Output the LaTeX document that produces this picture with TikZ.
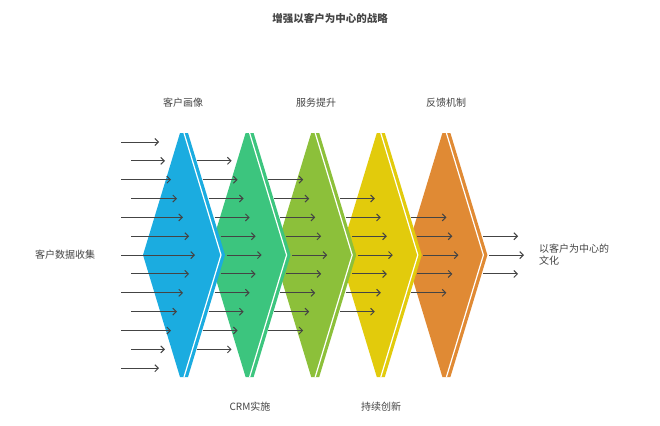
\documentclass[tikz,border=0pt]{standalone}
\usepackage{fontspec}
\setmainfont{Noto Sans CJK SC}
\usetikzlibrary{arrows.meta}
\definecolor{c0}{HTML}{1BACE0}
\definecolor{c1}{HTML}{3CC57E}
\definecolor{c2}{HTML}{8CC03A}
\definecolor{c3}{HTML}{E2CB0C}
\definecolor{c4}{HTML}{E08A34}
\definecolor{txt}{HTML}{444444}
\tikzset{lbl/.style={text=txt,font=\fontsize{10pt}{12pt}\selectfont,inner sep=0pt},
  arr/.style={draw=txt,line width=1pt,-{Straight Barb[length=3.5pt,width=7pt]}}}
\begin{document}
\begin{tikzpicture}[x=1pt,y=-1pt]
\useasboundingbox[fill=white] (0,0) rectangle (660,425);
\foreach \k in {4,3,2,1,0}{
  \pgfmathsetmacro{\xo}{180+65.6*\k}
  \fill[c\k] (\xo,133) -- (\xo+8,133) -- (\xo+45,255) -- (\xo+8,377) -- (\xo,377) -- (\xo-37,255) -- cycle;
  \draw[white,line width=1.2pt] (\xo+4,133) -- (\xo+41,255) -- (\xo+4,377);
}
\foreach \i in {0,...,12}{
  \pgfmathsetmacro{\y}{142+18.85*\i}
  \pgfmathsetmacro{\d}{abs(\i-6)}
  \pgfmathsetmacro{\e}{195-6*\d}
  \pgfmathsetmacro{\s}{isodd(\i)?131:121}
  \draw[arr] (\s,\y) -- (\e,\y);
}
\foreach \k/\a/\b in {1/1/11,2/2/10,3/3/9,4/4/8,5/5/7}{
  \foreach \i in {\a,...,\b}{
    \pgfmathsetmacro{\y}{142+18.85*\i}
    \pgfmathsetmacro{\d}{abs(\i-6)}
    \pgfmathsetmacro{\e}{196+65.6*\k-6*\d}
    \draw[arr] (\e-35,\y) -- (\e,\y);
  }
}
\node[lbl,font=\fontsize{10.5pt}{12pt}\bfseries\selectfont] (title) at (330,18) {增强以客户为中心的战略};
\node[lbl] (l0) at (183,103) {客户画像};
\node[lbl] (l2) at (316,103) {服务提升};
\node[lbl] (l4) at (446,103) {反馈机制};
\node[lbl] (l1) at (250,407) {CRM实施};
\node[lbl] (l3) at (381,407) {持续创新};
\node[lbl] (in) at (65,255) {客户数据收集};
\node[lbl,anchor=west,align=left] (out) at (539,255) {以客户为中心的\\文化};
\end{tikzpicture}
\end{document}
